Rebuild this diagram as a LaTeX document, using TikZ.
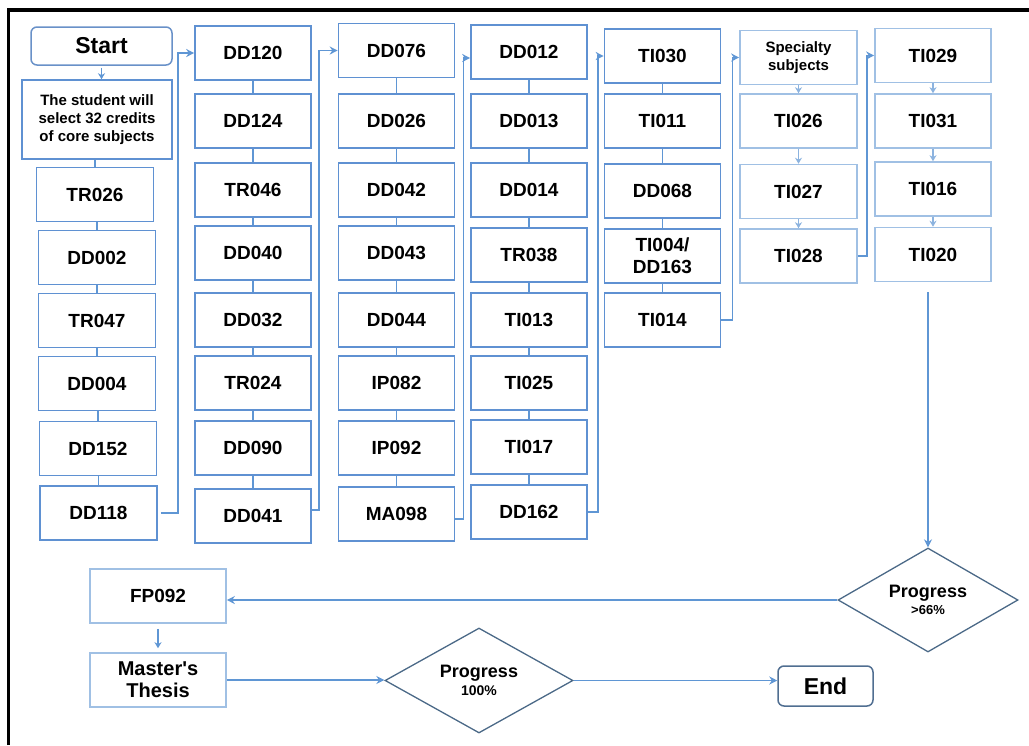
\documentclass[tikz,border=0pt]{standalone}
\usepackage{fontspec}
\setmainfont{Liberation Sans}
\usetikzlibrary{shapes.geometric,arrows.meta}
\definecolor{boxblue}{RGB}{95,145,210}
\definecolor{lightblue}{RGB}{160,192,228}
\definecolor{connblue}{RGB}{95,150,212}
\definecolor{diagray}{RGB}{75,105,135}
\definecolor{startblue}{RGB}{105,145,200}
\definecolor{endgray}{RGB}{80,110,145}
\tikzset{
 code/.style={draw=boxblue, line width=1.6pt, minimum width=116pt, minimum height=54pt, inner sep=0pt, font=\fontsize{19}{22}\selectfont\bfseries, align=center},
 lcode/.style={code, draw=lightblue},
 conn/.style={draw=connblue, line width=1.6pt},
 link/.style={draw=connblue, line width=1.1pt},
 arr/.style={conn, -{Stealth[length=8pt,width=8pt]}},
 sarr/.style={link, -{Stealth[length=6pt,width=7pt]}},
 dec/.style={diamond, draw=diagray, line width=1.3pt, inner sep=0pt, align=center, aspect=1.75},
 term/.style={rounded corners=6pt, line width=1.5pt, inner sep=0pt, font=\fontsize{23}{26}\selectfont\bfseries},
}
\begin{document}
\begin{tikzpicture}[x=1pt,y=-1pt]
\useasboundingbox (0,0) rectangle (1029,745);
% frame
\draw[line width=3.5pt] (8.5,745) -- (8.5,10) -- (1029,10);

% column 1
\node[term, draw=startblue, minimum width=141pt, minimum height=38pt] (start) at (101.5,46) {Start};
\node[code, minimum width=150pt, minimum height=79pt, font=\fontsize{15}{18}\selectfont\bfseries] (intro) at (97,119.5) {The student will\\select 32 credits\\of core subjects};
\node[code, minimum width=117pt] (TR026) at (95,194.5) {TR026};
\node[code, minimum width=117pt] (DD002) at (97,257.5) {DD002};
\node[code, minimum width=117pt] (TR047) at (97,320.5) {TR047};
\node[code, minimum width=117pt] (DD004) at (97,383.5) {DD004};
\node[code, minimum width=117pt] (DD152) at (98,448.5) {DD152};
\node[code, minimum width=117pt] (DD118) at (98.5,513) {DD118};

% column 2
\node[code] (DD120) at (253,53) {DD120};
\node[code] (DD124) at (253,121) {DD124};
\node[code] (TR046) at (253,190) {TR046};
\node[code] (DD040) at (253,253) {DD040};
\node[code] (DD032) at (253,320) {DD032};
\node[code] (TR024) at (253,383) {TR024};
\node[code] (DD090) at (253,448) {DD090};
\node[code] (DD041) at (253,516) {DD041};

% column 3
\node[code] (DD076) at (396.5,50.5) {DD076};
\node[code] (DD026) at (396.5,121) {DD026};
\node[code] (DD042) at (396.5,190) {DD042};
\node[code] (DD043) at (396.5,253) {DD043};
\node[code] (DD044) at (396.5,320) {DD044};
\node[code] (IP082) at (396.5,383) {IP082};
\node[code] (IP092) at (396.5,448) {IP092};
\node[code] (MA098) at (396.5,514) {MA098};

% column 4
\node[code] (DD012) at (529,52) {DD012};
\node[code] (DD013) at (529,121) {DD013};
\node[code] (DD014) at (529,190) {DD014};
\node[code] (TR038) at (529,255) {TR038};
\node[code] (TI013) at (529,320) {TI013};
\node[code] (TI025) at (529,383) {TI025};
\node[code] (TI017) at (529,447) {TI017};
\node[code] (DD162) at (529,512) {DD162};

% column 5
\node[code] (TI030) at (662.5,56) {TI030};
\node[code] (TI011) at (662.5,121) {TI011};
\node[code] (DD068) at (662.5,191) {DD068};
\node[code] (TID) at (662.5,256) {TI004/\\DD163};
\node[code] (TI014) at (662.5,320) {TI014};

% column 6
\node[lcode, minimum width=117pt, font=\fontsize{15}{18}\selectfont\bfseries] (spec) at (798.5,57.5) {Specialty\\subjects};
\node[lcode, minimum width=117pt] (TI026) at (798.5,121) {TI026};
\node[lcode, minimum width=117pt] (TI027) at (798.5,191.5) {TI027};
\node[lcode, minimum width=117pt] (TI028) at (798.5,256) {TI028};

% column 7
\node[lcode] (TI029) at (933,55.5) {TI029};
\node[lcode] (TI031) at (933,121) {TI031};
\node[lcode] (TI016) at (933,189) {TI016};
\node[lcode] (TI020) at (933,254.5) {TI020};

% bottom
\node[lcode, minimum width=136pt] (FP092) at (158,596) {FP092};
\node[lcode, minimum width=136pt, font=\fontsize{20}{22}\selectfont\bfseries] (thesis) at (158,680) {Master\textquotesingle s\\Thesis};
\node[dec, minimum width=180pt, minimum height=104pt] (d66) at (928,600)
  {\fontsize{18}{20}\selectfont\bfseries Progress\\[3pt]\fontsize{13}{15}\selectfont\bfseries >66\%};
\node[dec, minimum width=188pt, minimum height=105pt] (d100) at (479,680.5)
  {\fontsize{18}{20}\selectfont\bfseries Progress\\[4pt]\fontsize{14}{16}\selectfont\bfseries 100\%};
\node[term, draw=endgray, minimum width=95pt, minimum height=40pt] (endn) at (825.5,686) {End};

% links inside columns
\draw[sarr, shorten <=2pt] (start.south) -- (start.south |- intro.north);
\draw[link] (TR026.north) -- (TR026.north |- intro.south);
\foreach \a/\b in {TR026/DD002, DD002/TR047, TR047/DD004, DD004/DD152, DD152/DD118,
  DD120/DD124, DD124/TR046, TR046/DD040, DD040/DD032, DD032/TR024, TR024/DD090, DD090/DD041,
  DD076/DD026, DD026/DD042, DD042/DD043, DD043/DD044, DD044/IP082, IP082/IP092, IP092/MA098,
  DD012/DD013, DD013/DD014, DD014/TR038, TR038/TI013, TI013/TI025, TI025/TI017, TI017/DD162,
  TI030/TI011, TI011/DD068, DD068/TID, TID/TI014}
  \draw[link] (\b.north) -- (\b.north |- \a.south);
\foreach \a/\b in {spec/TI026, TI026/TI027, TI027/TI028, TI029/TI031, TI031/TI016, TI016/TI020}
  \draw[sarr, draw=lightblue!70!connblue] (\b.north |- \a.south) -- (\b.north);

% links between columns
\draw[arr] (DD118.east) ++(3,0) -- ++(17,0) |- (DD120.west);
\draw[arr] (DD041.east) ++(0,-6) -- ++(7,0) |- (DD076.west);
\draw[arr] (MA098.east) ++(0,5) -- ++(8,0) |- ([yshift=-6pt]DD012.west);
\draw[arr] (DD162.east) -- ++(10,0) |- (TI030.west);
\draw[arr] (TI014.east) -- ++(11,0) |- (spec.west);
\draw[arr] (TI028.east) -- ++(9,0) |- (TI029.west);

% bottom flow
\draw[arr, shorten <=10pt] (d66.north |- TI020.south) -- (d66.north);
\draw[arr] (d66.west) -- (d66.west -| FP092.east);
\draw[sarr, shorten <=5pt, shorten >=4pt] (FP092.south) -- (thesis.north);
\draw[arr] (thesis.east) -- (thesis.east -| d100.west);
\draw[arr] (d100.east) -- (d100.east -| endn.west);
\end{tikzpicture}
\end{document}
